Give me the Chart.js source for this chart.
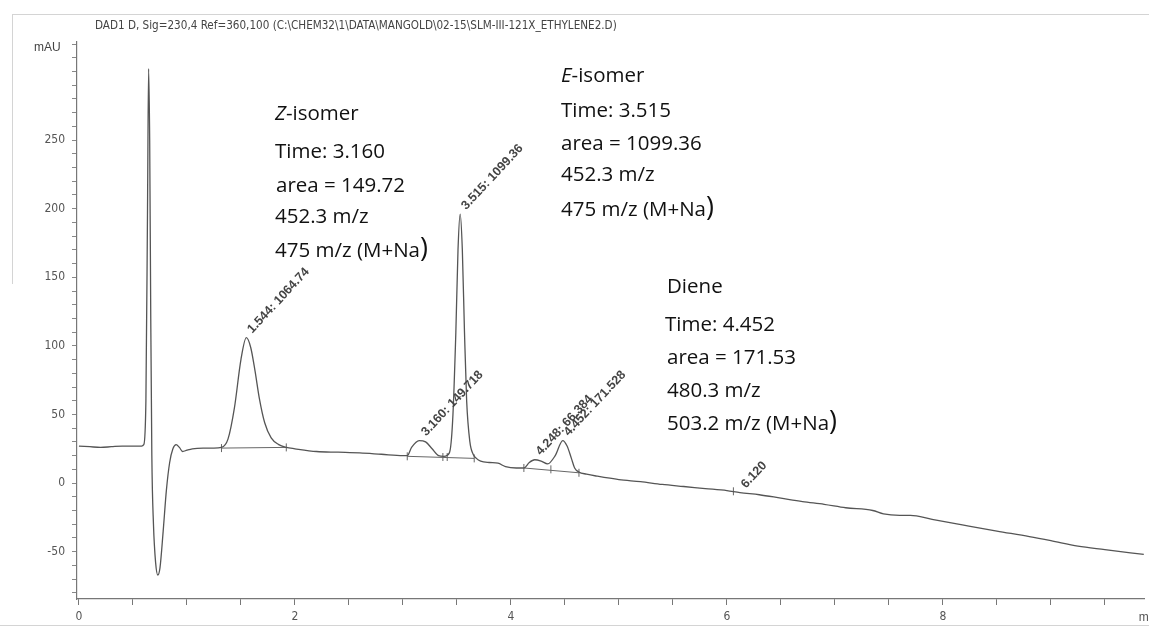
<!DOCTYPE html>
<html>
<head>
<meta charset="utf-8">
<script src="https://cdn.jsdelivr.net/npm/chart.js@4.4.1/dist/chart.umd.min.js"></script>
<style>
  html, body { margin: 0; padding: 0; background: #fff; }
  #wrap { position: relative; width: 1149px; height: 628px; overflow: hidden; }
  #chart { position: absolute; left: 0; top: 0; }
  .note { position: absolute; font-family: "Open Sans", sans-serif; font-size: 20.5px; color: #111; white-space: nowrap; line-height: 24px; }
  .big { font-size: 27px; line-height: 20px; }
  .hdr { position: absolute; left: 95px; top: 18px; font-family: "Liberation Sans Narrow", "DejaVu Sans Condensed", sans-serif; font-size: 11.6px; color: #444; white-space: nowrap; }
  .unit { position: absolute; left: 34px; top: 40px; font-family: "Liberation Sans Narrow", sans-serif; font-size: 12px; color: #444; }
  .scan { position: absolute; background: #d4d4d4; }
</style>
</head>
<body>
<div id="wrap">
  <canvas id="chart" width="1149" height="628"></canvas>
  <div class="scan" style="left:12px;top:14px;width:1137px;height:1px"></div>
  <div class="scan" style="left:12px;top:14px;width:1px;height:270px"></div>
  <div class="scan" style="left:0;top:625px;width:1149px;height:1px"></div>
  <div class="hdr">DAD1 D, Sig=230,4 Ref=360,100 (C:\CHEM32\1\DATA\MANGOLD\02-15\SLM-III-121X_ETHYLENE2.D)</div>
  <div class="unit">mAU</div>

  <div class="note" style="left:275px;top:100px"><i>Z</i>-isomer</div>
  <div class="note" style="left:275px;top:138px">Time: 3.160</div>
  <div class="note" style="left:276px;top:172px">area = 149.72</div>
  <div class="note" style="left:275px;top:203px">452.3 m/z</div>
  <div class="note" style="left:275px;top:237px">475 m/z (M+Na<span class="big">)</span></div>

  <div class="note" style="left:561px;top:62px"><i>E</i>-isomer</div>
  <div class="note" style="left:561px;top:97px">Time: 3.515</div>
  <div class="note" style="left:561px;top:130px">area = 1099.36</div>
  <div class="note" style="left:561px;top:161px">452.3 m/z</div>
  <div class="note" style="left:561px;top:196px">475 m/z (M+Na<span class="big">)</span></div>

  <div class="note" style="left:667px;top:273px">Diene</div>
  <div class="note" style="left:665px;top:311px">Time: 4.452</div>
  <div class="note" style="left:667px;top:344px">area = 171.53</div>
  <div class="note" style="left:667px;top:377px">480.3 m/z</div>
  <div class="note" style="left:667px;top:410px">503.2 m/z (M+Na<span class="big">)</span></div>
</div>
<script>
// chromatogram trace (min, mAU)
const times = [0.00, 0.10, 0.20, 0.30, 0.40, 0.50, 0.58, 0.60, 0.62, 0.635, 0.645, 0.655, 0.665, 0.675, 0.69, 0.71, 0.73, 0.75, 0.78, 0.81, 0.84, 0.87, 0.90, 0.93, 0.96, 1.00, 1.05, 1.15, 1.25, 1.32, 1.38, 1.44, 1.50, 1.55, 1.59, 1.63, 1.67, 1.72, 1.78, 1.85, 1.92, 2.00, 2.20, 2.40, 2.60, 2.80, 3.00, 3.04, 3.08, 3.15, 3.21, 3.27, 3.33, 3.38, 3.43, 3.46, 3.49, 3.51, 3.53, 3.55, 3.57, 3.59, 3.62, 3.65, 3.68, 3.72, 3.80, 3.88, 3.95, 4.05, 4.12, 4.17, 4.22, 4.28, 4.34, 4.41, 4.48, 4.52, 4.56, 4.59, 4.63, 4.70, 4.80, 5.00, 5.20, 5.40, 5.60, 5.80, 6.00, 6.12, 6.30, 6.50, 6.70, 6.90, 7.10, 7.35, 7.45, 7.60, 7.70, 7.90, 8.18, 8.50, 8.80, 9.00, 9.25, 9.50, 9.86];
const signal = [27, 26.5, 26, 26.5, 27, 27, 27, 28, 60, 200, 302, 250, 120, 20, -30, -58, -67, -62, -35, -5, 15, 25, 28, 26, 23, 24, 25, 25.5, 25.5, 26, 32, 55, 90, 106, 99, 82, 62, 44, 33, 28, 26, 25, 23, 22.5, 22, 21, 20, 20, 26, 31, 30, 25, 20, 19.5, 22, 45, 110, 170, 196, 170, 110, 60, 30, 21, 18, 16, 15, 14.5, 12, 11, 11, 15, 17, 16, 14, 20, 31, 27, 18, 11, 8, 6.5, 5, 2.5, 1, -1, -2.5, -4, -5.5, -7, -8.5, -11, -13.5, -15.5, -18, -20, -22.5, -23.5, -23.5, -26.5, -30.5, -35, -39, -42, -46, -48.5, -52];

// integration baselines and their end marks
const baseTimes = [1.32, 1.92, 1.93, 3.04, 3.66, 3.67, 4.12, 4.63];
const baseValues = [25.5, 26, null, 19.5, 18, null, 11, 7.5];
const markTimes = [1.32, 1.92, 3.04, 3.37, 3.41, 3.66, 4.12, 4.37, 4.63, 6.06];
const markValues = [25.5, 26, 19.5, 19, 19, 18, 11, 10, 7.5, -6];

// peak annotations printed by the integrator
const peakTimes = [1.55, 3.16, 3.53, 4.22, 4.48, 6.12];
const peakHeights = [106, 31, 196, 17, 31, -7];
const peakText = ['1.544: 1064.74', '3.160: 149.718', '3.515: 1099.36', '4.248: 66.384', '4.452: 171.528', '6.120'];

const xTickLabels = [0, 2, 4, 6, 8];
const yTickLabels = [-50, 0, 50, 100, 150, 200, 250];

const tickFont = { family: '"Liberation Sans Narrow", "DejaVu Sans Condensed", sans-serif', size: 12 };

const peakLabels = {
    id: 'peakLabels',
    afterDatasetsDraw(chart) {
        const { ctx, scales: { x, y } } = chart;
        ctx.save();
        ctx.font = 'bold 12.5px "Liberation Sans Narrow", sans-serif';
        ctx.fillStyle = '#444';
        peakTimes.forEach((t, i) => {
            ctx.save();
            ctx.translate(x.getPixelForValue(t) + 6, y.getPixelForValue(peakHeights[i]) - 4);
            ctx.rotate(-0.82);
            ctx.fillText(peakText[i], 0, 0);
            ctx.restore();
        });
        ctx.font = '12px "Liberation Sans Narrow", sans-serif';
        ctx.fillStyle = '#555';
        ctx.textBaseline = 'middle';
        ctx.fillText('min', x.getPixelForValue(9.85) - 4, 618);
        ctx.restore();
    }
};

new Chart(document.getElementById('chart'), {
    type: 'line',
    data: {
        datasets: [{
            data: times.map((t, i) => ({ x: t, y: signal[i] })),
            borderColor: '#555',
            borderWidth: 1.3,
            pointRadius: 0,
            cubicInterpolationMode: 'monotone'
        }, {
            data: baseTimes.map((t, i) => ({ x: t, y: baseValues[i] })),
            borderColor: '#666',
            borderWidth: 1,
            pointRadius: 0,
            spanGaps: false
        }, {
            data: markTimes.map((t, i) => ({ x: t, y: markValues[i] })),
            showLine: false,
            pointStyle: 'line',
            rotation: 90,
            pointRadius: 4,
            borderColor: '#666',
            borderWidth: 1
        }]
    },
    options: {
        responsive: false,
        animation: false,
        devicePixelRatio: 1,
        layout: { padding: { top: 42, left: 0, right: 0, bottom: 0 } },
        plugins: { legend: { display: false }, tooltip: { enabled: false } },
        scales: {
            x: {
                type: 'linear',
                min: -0.018,
                max: 9.862,
                border: { color: '#777', width: 1.2 },
                grid: { drawOnChartArea: false, tickLength: 6, color: '#777' },
                ticks: {
                    stepSize: 0.5,
                    autoSkip: false,
                    maxRotation: 0,
                    includeBounds: false,
                    maxTicksLimit: 1000,
                    color: '#555',
                    font: tickFont,
                    padding: 5,
                    callback: v => xTickLabels.includes(Math.round(v * 100) / 100) ? String(v) : ''
                },
                afterFit: s => { s.height = 29; }
            },
            y: {
                min: -84.5,
                max: 321.5,
                border: { color: '#777', width: 1.2 },
                grid: { drawOnChartArea: false, tickLength: 5, color: '#888' },
                ticks: {
                    stepSize: 10,
                    autoSkip: false,
                    includeBounds: false,
                    maxTicksLimit: 1000,
                    color: '#555',
                    font: tickFont,
                    padding: 7,
                    callback: v => yTickLabels.includes(Math.round(v)) ? String(v) : ''
                },
                afterFit: s => { s.width = 77; }
            }
        }
    },
    plugins: [peakLabels]
});
</script>
</body>
</html>
